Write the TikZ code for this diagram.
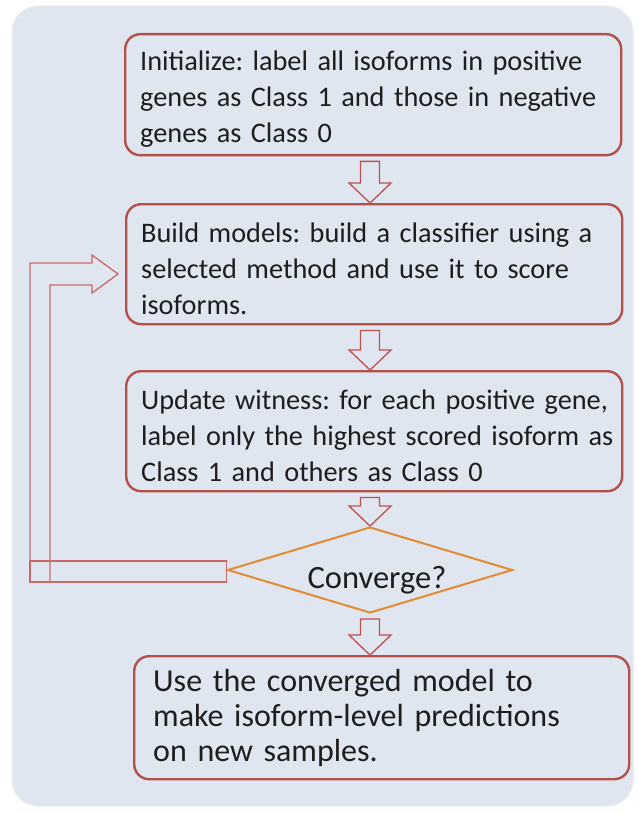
\documentclass[tikz,border=0pt]{standalone}
\usepackage{fontspec}
\setmainfont{Carlito}
\usetikzlibrary{shapes.geometric,calc}
\definecolor{panelbg}{HTML}{DFE6F0}
\definecolor{boxred}{HTML}{B3504B}
\definecolor{arrred}{HTML}{C0504D}
\definecolor{diaor}{HTML}{E38B32}
\definecolor{txt}{HTML}{1E1E1E}
\tikzset{
  stepbox/.style={draw=boxred, line width=2.4pt, rounded corners=15pt, minimum width=496pt, minimum height=121pt, text width=466pt, align=left, inner xsep=15pt, inner ysep=0pt, text=txt, font=\fontsize{28.3}{36}\selectfont\frenchspacing, anchor=north west},
  harrow/.style={draw=arrred, line width=1.3pt, fill=panelbg},
  loopline/.style={draw=arrred!85!white, line width=1.3pt},
}
\newcommand\hollowdown[2]{%
  \draw[harrow] let \p1=(#1), \p2=(#2) in
    ($(\x1-9.5pt,\y1-5pt)$) -- ($(\x1+9.5pt,\y1-5pt)$) -- ($(\x1+9.5pt,\y2+20pt)$) --
    ($(\x1+21pt,\y2+20pt)$) -- ($(\x1,\y2)$) -- ($(\x1-21pt,\y2+20pt)$) --
    ($(\x1-9.5pt,\y2+20pt)$) -- cycle;}
\newcommand\oneline[1]{\mbox{#1}}
\newcommand\topstrut{\rule{0pt}{29pt}}
\begin{document}
\begin{tikzpicture}[x=1pt,y=-1pt]
\useasboundingbox (0,0) rectangle (637,813);
\fill[white] (0,0) rectangle (637,813);
\draw[fill=panelbg, draw=gray!15, line width=1pt, rounded corners=26pt] (12,6) rectangle (633,806);

\node[stepbox] (b1) at (124,33) {\oneline{\topstrut Initialize: label all isoforms in positive}\\\oneline{genes as Class 1 and those in negative}\\\oneline{genes as Class 0}};
\node[stepbox, minimum height=120pt] (b2) at (125,203) {\oneline{\topstrut Build models: build a classifier using a}\\\oneline{selected method and use it to score}\\\oneline{isoforms.}};
\node[stepbox, minimum height=120pt] (b3) at (125,370) {\oneline{\topstrut Update witness: for each positive gene,}\\\oneline{label only the highest scored isoform as}\\\oneline{Class 1 and others as Class 0}};
\node[diamond, draw=diaor, line width=2pt, minimum width=285pt, minimum height=86pt, inner sep=0pt] (d) at (370,570) {};
\node[text=txt, font=\fontsize{32.5}{36}\selectfont] (dt) at (377,580) {Converge?};
\node[stepbox, minimum width=495pt, minimum height=123pt, inner xsep=19pt, text width=457pt, font=\fontsize{32}{35}\selectfont\frenchspacing] (b5) at (133,655) {\oneline{Use the converged model to}\\\oneline{make isoform-level predictions}\\\oneline{on new samples.}};

\coordinate (a1t) at (b1.south -| d.north);
\coordinate (a2t) at (b2.south -| d.north);
\coordinate (a3t) at (b3.south -| d.north);
\hollowdown{a1t}{b2.north -| d.north}
\hollowdown{a2t}{b3.north -| d.north}
\hollowdown{a3t}{d.north}
\hollowdown{d.south}{b5.north -| d.north}

% feedback loop
\draw[loopline] ($(d.west)+(0,-9)$) rectangle (30,582);
\draw[loopline] let \p1=(b2.west) in
  (30,582) -- (30,263) -- (92,263) -- (92,255) -- ($(\x1-7pt,274)$) -- (92,293) -- (92,285) -- (50,285) -- (50,582);
\end{tikzpicture}
\end{document}
